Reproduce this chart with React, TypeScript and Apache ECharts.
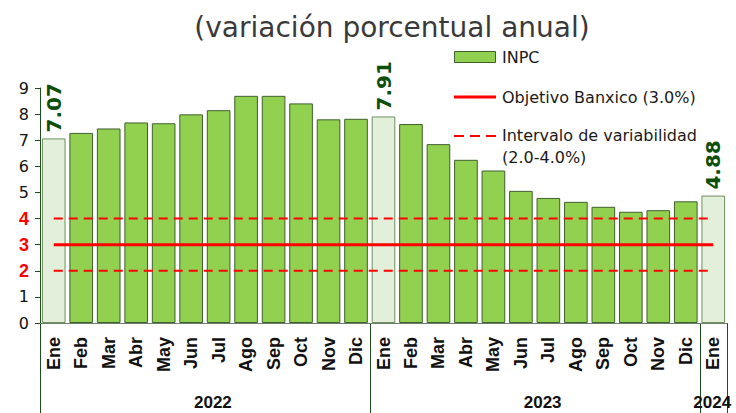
import React, { useEffect, useRef } from "react";
import * as echarts from "echarts";

const months = ["Ene","Feb","Mar","Abr","May","Jun","Jul","Ago","Sep","Oct","Nov","Dic","Ene","Feb","Mar","Abr","May","Jun","Jul","Ago","Sep","Oct","Nov","Dic","Ene"];
const inpc = [7.07,7.28,7.45,7.68,7.65,7.99,8.15,8.70,8.70,8.41,7.80,7.82,7.91,7.62,6.85,6.25,5.84,5.06,4.79,4.64,4.45,4.26,4.32,4.66,4.88];
const highlighted = [0, 12, 24];
const years = [{ label: "2022", from: 0, to: 12 }, { label: "2023", from: 12, to: 24 }, { label: "2024", from: 24, to: 25 }];
const objetivo = 3.0;
const intervalo = [2.0, 4.0];
const legendLabels = ["INPC", "Objetivo Banxico (3.0%)", "Intervalo de variabilidad\n(2.0-4.0%)"];

const FONT = "DejaVu Sans";

export default function App() {
  const ref = useRef<HTMLDivElement>(null);
  useEffect(() => {
    const chart = echarts.init(ref.current!, null, { renderer: "svg" });
    const barData = inpc.map((v, i) => {
      const hl = highlighted.includes(i);
      return {
        value: v,
        itemStyle: hl ? { color: "#E2EFDA", borderColor: "#6E8F5E", borderWidth: 1 } : { color: "#92D050", borderColor: "#3F5F2F", borderWidth: 1 },
        label: hl ? {
          show: true, position: "top", rotate: 90, align: "left", verticalAlign: "middle", distance: 6,
          formatter: (p: any) => p.value.toFixed(2),
          color: "#0B4F0B", fontWeight: "bold", fontSize: 20, fontFamily: FONT,
        } : { show: false },
      };
    });
    const option: any = {
      animation: false,
      textStyle: { fontFamily: FONT },
      title: {
        text: "(variación porcentual anual)", left: 387, textAlign: "center", top: 8,
        textStyle: { fontSize: 28, fontWeight: "normal", color: "#3A3A3A", fontFamily: FONT },
      },
      grid: { left: 40, right: 9, top: 88, bottom: 90 },
      xAxis: {
        type: "category", data: months,
        axisLine: { lineStyle: { color: "#6E7F6E", width: 1 } },
        axisTick: { show: false },
        axisLabel: { rotate: 90, fontWeight: "bold", fontSize: 18, color: "#111", margin: 14, fontFamily: "Liberation Sans", interval: 0 },
      },
      yAxis: {
        type: "value", min: 0, max: 9, interval: 1,
        splitLine: { show: false },
        axisLine: { show: true, lineStyle: { color: "#1E4D1E", width: 1 } },
        axisTick: { show: true, length: 5, lineStyle: { color: "#1E4D1E" } },
        axisLabel: {
          margin: 11, fontSize: 16, fontFamily: FONT,
          formatter: (v: number) => (v >= intervalo[0] && v <= intervalo[1] ? `{r|${v}}` : `{k|${v}}`),
          rich: {
            r: { color: "#FF0000", fontWeight: "bold", fontSize: 18, fontFamily: "Liberation Sans" },
            k: { color: "#111", fontSize: 16, fontFamily: FONT },
          },
        },
      },
      series: [
        { name: legendLabels[0], type: "bar", data: barData, barCategoryGap: "14%", z: 1 },
        {
          name: legendLabels[1], type: "line", data: months.map(() => objetivo), symbol: "none",
          lineStyle: { color: "#FF0000", width: 3 }, z: 5,
        },
        {
          name: legendLabels[2], type: "line", data: months.map(() => intervalo[1]), symbol: "none",
          lineStyle: { color: "#FF0000", width: 2, type: [9, 6] }, z: 5,
        },
        {
          name: legendLabels[2], type: "line", data: months.map(() => intervalo[0]), symbol: "none",
          lineStyle: { color: "#FF0000", width: 2, type: [9, 6] }, z: 5,
        },
      ],
    };
    chart.setOption(option);

    const y0 = chart.convertToPixel({ yAxisIndex: 0 }, 0) as number;
    const bottom = 413;
    const step = (chart.convertToPixel({ xAxisIndex: 0 }, 1) as number) - (chart.convertToPixel({ xAxisIndex: 0 }, 0) as number);
    const edge = (i: number) => (chart.convertToPixel({ xAxisIndex: 0 }, Math.min(i, months.length - 1)) as number) + (i >= months.length ? step / 2 : -step / 2);
    const graphics: any[] = [];
    [0, 12, 24, 25].forEach((b) => {
      const x = Math.round(edge(b)) + 0.5;
      graphics.push({ type: "line", shape: { x1: x, y1: y0, x2: x, y2: bottom }, style: { stroke: "#1E4D1E", lineWidth: 1 }, silent: true });
    });
    years.forEach((yr) => {
      const cx = (edge(yr.from) + edge(yr.to)) / 2 + (yr.to - yr.from > 1 ? 8 : -1);
      graphics.push({
        type: "text", x: cx, y: 402,
        style: { text: yr.label, fontSize: 17, fontWeight: "bold", fontFamily: "Liberation Sans", fill: "#111", align: "center", verticalAlign: "middle" },
        silent: true,
      });
    });
    // legend
    const lx = 454, tx = 502;
    const legendText = { fontSize: 16, fontFamily: FONT, fill: "#1A1A1A", verticalAlign: "middle", align: "left" };
    graphics.push(
      { type: "rect", shape: { x: lx + 0.5, y: 51.5, width: 41, height: 11 }, style: { fill: "#92D050", stroke: "#3F5F2F", lineWidth: 1 }, silent: true },
      { type: "text", x: tx, y: 57, style: { ...legendText, text: legendLabels[0] }, silent: true },
      { type: "line", shape: { x1: lx, y1: 97, x2: lx + 42, y2: 97 }, style: { stroke: "#FF0000", lineWidth: 3 }, silent: true },
      { type: "text", x: tx, y: 97, style: { ...legendText, text: legendLabels[1] }, silent: true },
      { type: "line", shape: { x1: lx, y1: 136, x2: lx + 42, y2: 136 }, style: { stroke: "#FF0000", lineWidth: 2, lineDash: [10, 6] }, silent: true },
      { type: "text", x: tx, y: 124, style: { ...legendText, text: legendLabels[2], verticalAlign: "top", lineHeight: 22 }, silent: true },
    );
    chart.setOption({ graphic: graphics });

    return () => chart.dispose();
  }, []);
  return <div ref={ref} style={{ width: 736, height: 413, position: "absolute", left: 0, top: 0 }} />;
}
